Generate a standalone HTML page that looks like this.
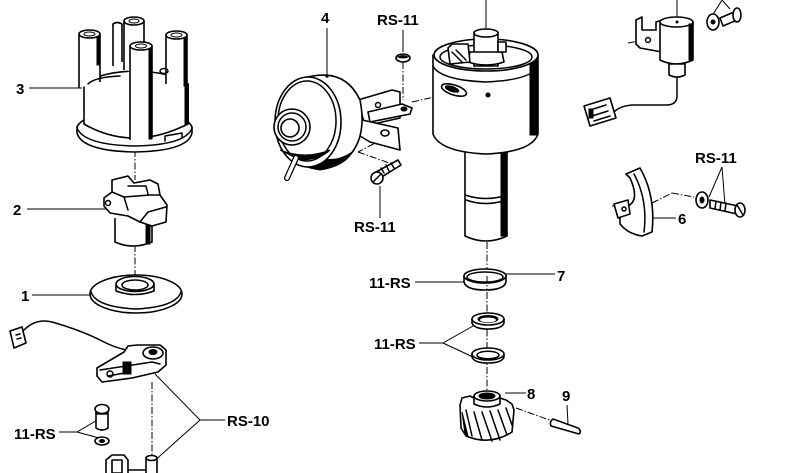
<!DOCTYPE html>
<html><head><meta charset="utf-8">
<style>
html,body{margin:0;padding:0;background:#fff;}
svg{display:block;}
.l{fill:none;stroke:#000;stroke-width:1.5;stroke-linejoin:round;stroke-linecap:round}
.t{fill:none;stroke:#000;stroke-width:1}
.w{fill:#fff;stroke:#000;stroke-width:1.6;stroke-linejoin:round}
.k{fill:#000;stroke:#000;stroke-width:1}
.d{fill:none;stroke:#000;stroke-width:1;stroke-dasharray:7 2 1.5 2}
text{font-family:"Liberation Sans",Arial,sans-serif;font-weight:bold;font-size:15px;fill:#000}
</style></head><body>
<svg width="799" height="473" viewBox="0 0 799 473" xmlns="http://www.w3.org/2000/svg">

<!-- ===== Labels & leaders ===== -->
<text x="16" y="94" font-size="16">3</text>
<line class="t" x1="29" y1="88" x2="82" y2="88"/>
<text x="13" y="215" font-size="16">2</text>
<line class="t" x1="27" y1="209" x2="106" y2="209"/>
<text x="21" y="301" font-size="16">1</text>
<line class="t" x1="32" y1="295" x2="91" y2="295"/>

<text x="321" y="23" font-size="16">4</text>
<line class="t" x1="327" y1="28" x2="327" y2="76"/>
<text x="377" y="25">RS-11</text>
<line class="t" x1="403" y1="30" x2="403" y2="52"/>
<text x="354" y="232">RS-11</text>
<line class="t" x1="380" y1="218" x2="380" y2="186"/>

<text x="369" y="288">11-RS</text>
<line class="t" x1="415" y1="282" x2="465" y2="282"/>
<text x="557" y="281" font-size="16">7</text>
<line class="t" x1="505" y1="274" x2="555" y2="274"/>
<text x="374" y="349">11-RS</text>
<polyline class="t" points="419,343 443,343 473,326"/>
<line class="t" x1="443" y1="343" x2="473" y2="357"/>
<text x="527" y="399" font-size="16">8</text>
<line class="t" x1="505" y1="393" x2="526" y2="393"/>
<text x="562" y="401" font-size="16">9</text>
<line class="t" x1="567" y1="405" x2="568" y2="424"/>

<text x="695" y="163">RS-11</text>
<line class="t" x1="722" y1="167" x2="709" y2="197"/>
<line class="t" x1="722" y1="167" x2="725" y2="205"/>
<text x="678" y="224" font-size="16">6</text>
<line class="t" x1="648" y1="218" x2="676" y2="218"/>

<text x="227" y="426">RS-10</text>
<polyline class="t" points="225,420 200,420 155,374"/>
<line class="t" x1="200" y1="420" x2="152" y2="463"/>
<text x="14" y="439">11-RS</text>
<polyline class="t" points="59,432 77,432 99,419"/>
<line class="t" x1="77" y1="432" x2="99" y2="438"/>

<!-- ===== Center dash lines ===== -->
<line class="d" x1="135" y1="150" x2="135" y2="180"/>
<line class="d" x1="135" y1="245" x2="135" y2="292"/>
<line class="d" x1="152" y1="382" x2="152" y2="456"/>
<line class="d" x1="487" y1="242" x2="487" y2="395"/>
<line class="d" x1="403" y1="62" x2="403" y2="100"/>
<line class="d" x1="412" y1="102" x2="448" y2="94"/>
<line class="d" x1="385" y1="138" x2="358" y2="152"/>
<line class="d" x1="358" y1="152" x2="395" y2="165"/>
<line class="d" x1="516" y1="408" x2="555" y2="422"/>
<line class="d" x1="652" y1="203" x2="672" y2="193"/>
<line class="d" x1="672" y1="193" x2="694" y2="197"/>
<line class="d" x1="628" y1="43" x2="645" y2="40"/>
<line class="d" x1="612" y1="206" x2="622" y2="206"/>

<!-- ===== Part 3: distributor cap ===== -->
<path class="w" d="M77,127 L77,133 Q82,151 135,152 Q188,151 192,133 L192,127 Q186,112 135,111 Q84,112 77,127Z"/>
<path class="l" d="M77,128 Q84,145 135,146 Q186,145 192,128"/>
<path class="w" d="M84,124 L84,84 Q100,72 135,71 Q172,72 188,84 L188,124 Q160,138 135,138 Q108,138 84,124Z"/>
<rect class="k" x="185" y="84" width="3.5" height="40"/>
<path class="w" d="M113,66 L113,24 Q117,21 122,24 L122,62"/>
<path class="w" d="M124,70 L124,21 L144,21 L144,74"/>
<ellipse class="w" cx="134" cy="21" rx="10" ry="4"/>
<ellipse class="t" cx="134" cy="21" rx="5" ry="2"/>
<path class="w" d="M166,84 L166,35 L187,35 L187,86"/>
<ellipse class="w" cx="176.5" cy="35" rx="10.5" ry="4"/>
<ellipse class="t" cx="176.5" cy="35" rx="5.5" ry="2"/>
<rect class="k" x="184" y="38" width="3" height="48"/>
<path class="w" d="M79,88 L79,34 L100,34 L100,82"/>
<ellipse class="w" cx="89.5" cy="34" rx="10.5" ry="4"/>
<ellipse class="t" cx="89.5" cy="34" rx="5.5" ry="2"/>
<rect class="k" x="97" y="37" width="3" height="28"/>
<path class="w" d="M130,140 L130,46 L152,46 L152,138"/>
<ellipse class="w" cx="141" cy="46" rx="11" ry="4"/>
<ellipse class="t" cx="141" cy="46" rx="5.5" ry="2"/>
<rect class="k" x="149" y="49" width="3" height="90"/>
<path class="l" d="M88,84 Q95,77 120,76"/>
<ellipse class="l" cx="164" cy="71" rx="4" ry="2.5"/>
<path class="l" d="M165,141 L165,136 L182,133 L182,138"/>

<!-- ===== Part 2: rotor ===== -->
<path class="w" d="M115,218 L115,242 Q133,250 152,242 L152,218"/>
<rect class="k" x="146" y="222" width="4" height="22"/>
<path class="w" d="M104,198 L112,192 L112,180 L128,176 L134,183 L150,180 L158,184 L160,195 L167,205 L166,222 L152,226 L140,222 L128,216 L110,213 L104,206Z"/>
<path class="l" d="M112,192 L124,197 L128,210"/>
<path class="l" d="M124,197 L150,195 L160,195"/>
<path class="l" d="M128,186 L146,186 L148,194"/>
<path class="l" d="M140,222 L148,212 L166,207"/>
<circle class="l" cx="108" cy="203" r="2.5"/>

<!-- ===== Part 1: plate ===== -->
<ellipse class="w" cx="136" cy="294" rx="46" ry="19"/>
<path class="l" d="M91,292 Q96,307 136,309 Q176,307 181,292"/>
<path class="w" d="M116,284 L116,291 Q135,298 154,291 L154,284"/>
<ellipse class="w" cx="135" cy="284" rx="19" ry="7.5"/>
<ellipse class="l" cx="135" cy="285" rx="13" ry="5"/>

<!-- ===== Breaker points ===== -->
<path class="l" d="M24,330 Q36,318 52,322 Q80,330 100,340 Q115,348 127,350" stroke-width="2"/>
<path class="w" d="M10,331 L22,327 L26,343 L14,348Z"/>
<path class="l" d="M16,335 L20,334 M17,339 L21,338"/>
<path class="w" d="M97,368 L124,352 L128,346 L137,345 L160,345 L166,350 L166,365 L158,372 L132,378 L102,382 L97,376Z"/>
<path class="l" d="M100,370 L126,366 L152,362 L160,364"/>
<path class="l" d="M108,376 L130,372"/>
<ellipse class="w" cx="153" cy="353" rx="10" ry="6"/>
<ellipse class="k" cx="153" cy="352" rx="4" ry="2.5"/>
<rect class="k" x="123" y="362" width="8" height="12"/>
<circle class="l" cx="110" cy="374" r="3"/>

<!-- bottom parts -->
<path class="w" d="M96,410 L96,428 Q102,432 108,428 L108,410"/>
<ellipse class="w" cx="102" cy="409" rx="7" ry="4.5"/>
<line class="l" x1="97" y1="414" x2="107" y2="414"/>
<ellipse class="w" cx="102" cy="441" rx="7" ry="4"/>
<ellipse class="k" cx="102" cy="441" rx="2.5" ry="1.5"/>
<path class="w" d="M106,473 L106,460 L112,455 L124,455 L128,460 L128,473"/>
<rect class="w" x="112" y="460" width="10" height="13"/>
<path class="w" d="M146,473 L146,458 L157,458 L157,473"/>
<ellipse class="w" cx="151.5" cy="458" rx="5.5" ry="2.5"/>
<line class="l" x1="128" y1="470" x2="146" y2="470"/>

<!-- ===== Part 4: vacuum unit ===== -->
<path class="w" d="M358,100 L392,90 L400,92 L400,118 L365,126Z"/>
<path class="w" d="M368,112 L402,104 L412,108 L410,114 L370,122Z"/>
<ellipse class="k" cx="404" cy="109" rx="3" ry="2"/>
<circle class="l" cx="378" cy="105" r="2.5"/>
<path class="w" d="M362,120 L398,128 L400,150 L370,142 L360,136Z"/>
<ellipse class="w" cx="385" cy="133" rx="4" ry="3"/>
<path class="w" d="M308,77 Q345,68 360,100 Q368,140 345,160 Q320,172 308,167Z"/>
<path class="k" d="M300,150 Q330,168 352,152 Q345,166 320,170 Q300,168 300,150Z"/>
<ellipse class="w" cx="308" cy="122" rx="33" ry="45"/>
<ellipse class="l" cx="307" cy="121" rx="29" ry="40"/>
<circle class="w" cx="292" cy="127" r="18"/>
<circle class="l" cx="292" cy="127" r="14"/>
<circle class="w" cx="290" cy="128" r="9"/>
<path class="k" d="M280,150 Q305,160 330,150 Q320,160 300,160Z"/>
<line x1="296" y1="158" x2="287" y2="178" stroke="#000" stroke-width="6" stroke-linecap="round"/>
<line x1="296" y1="158" x2="287" y2="178" stroke="#fff" stroke-width="3.5" stroke-linecap="round"/>
<circle class="k" cx="327" cy="76" r="1.2"/>
<ellipse class="w" cx="403" cy="58" rx="7" ry="4"/>
<path class="k" d="M398,57 Q403,54 408,57 Q403,59 398,57Z"/>
<path class="w" d="M376,172 L398,160 L401,165 L380,178Z"/>
<path class="l" d="M381,168 L384,173 M386,165 L389,171 M391,163 L394,168"/>
<circle class="w" cx="377" cy="178" r="6"/>
<line class="l" x1="373" y1="182" x2="381" y2="174"/>

<!-- ===== Distributor body ===== -->
<line class="t" x1="486" y1="0" x2="486" y2="34"/>
<path class="w" d="M465,148 L465,236 Q486,246 507,236 L507,148Z"/>
<path class="l" d="M465,195 Q486,202 507,195"/>
<path class="l" d="M466,200 Q486,207 506,200"/>
<rect class="k" x="501" y="150" width="5" height="86"/>
<path class="w" d="M433,55 L433,134 Q440,152 486,154 Q532,152 538,134 L538,55Z"/>
<rect class="k" x="530" y="60" width="8" height="75"/>
<path class="l" d="M433,66 Q440,80 486,82 Q532,80 538,66"/>
<ellipse class="w" cx="486" cy="55" rx="52" ry="16"/>
<ellipse class="l" cx="486" cy="57" rx="46" ry="12"/>
<rect class="w" x="474" y="32" width="24" height="34"/>
<ellipse class="w" cx="486" cy="33" rx="12" ry="4"/>
<path class="w" d="M468,62 L470,52 L502,52 L504,62 Q486,68 468,62Z"/>
<path class="w" d="M448,48 L452,44 L468,44 L470,62 L450,64Z"/>
<path class="l" d="M452,52 L462,62 M456,50 L466,60"/>
<rect class="w" x="498" y="42" width="8" height="10"/>
<ellipse class="w" cx="454" cy="90" rx="13" ry="5" transform="rotate(18 454 90)"/>
<ellipse class="k" cx="452" cy="89" rx="7" ry="2.5" transform="rotate(18 452 89)"/>
<circle class="k" cx="488" cy="95" r="2"/>

<!-- ===== Ring 7 & washers ===== -->
<path class="w" d="M464,276 L464,282 Q466,290 485,290 Q504,290 506,282 L506,276Z"/>
<ellipse class="w" cx="485" cy="276" rx="21" ry="7"/>
<ellipse class="l" cx="485" cy="277" rx="18" ry="5"/>
<line class="d" x1="487" y1="276" x2="487" y2="290"/>
<path class="w" d="M472,319 L472,323 Q474,329 488,329 Q502,329 504,323 L504,319Z"/>
<ellipse class="w" cx="488" cy="319" rx="16" ry="6"/>
<ellipse class="k" cx="488" cy="319" rx="10" ry="3.5"/>
<ellipse fill="#fff" cx="488" cy="320" rx="8" ry="2.4"/>
<path class="w" d="M472,354 L472,357 Q474,363 488,363 Q502,363 504,357 L504,354Z"/>
<ellipse class="w" cx="488" cy="354" rx="16" ry="6"/>
<ellipse class="l" cx="488" cy="355" rx="11" ry="3.8"/>

<!-- ===== Gear 8 & pin 9 ===== -->
<path class="w" d="M460,405 L462,398 L470,396 L476,399 L500,398 L506,400 L512,404 L514,410 L512,432 Q490,446 466,436 L461,428Z"/>
<path class="l" d="M466,410 L472,436 M474,412 L482,440 M482,412 L492,441 M490,411 L500,440 M498,410 L507,435 M506,408 L512,425"/>
<path class="k" d="M462,412 L468,436 L465,434 Z"/>
<path class="w" d="M474,396 L474,404 Q487,410 500,404 L500,396Z"/>
<ellipse class="w" cx="487" cy="396" rx="13" ry="5"/>
<ellipse class="k" cx="487" cy="396" rx="8" ry="3"/>
<path class="w" d="M553,419 L578,428 Q582,431 579,434 L551,426 Q549,422 553,419Z"/>

<!-- ===== Condenser (top right) ===== -->
<line class="t" x1="677" y1="0" x2="677" y2="20"/>
<line class="t" x1="722" y1="0" x2="712" y2="16"/>
<line class="t" x1="722" y1="0" x2="730" y2="9"/>
<path class="w" d="M636,20 L642,17 L642,30 L656,30 L656,22 L662,20 L662,52 L640,48 L636,44Z"/>
<circle class="l" cx="648" cy="40" r="2.5"/>
<path class="w" d="M660,22 L660,60 Q676,68 693,60 L693,22Z"/>
<ellipse class="w" cx="676.5" cy="22" rx="16.5" ry="5"/>
<circle class="k" cx="677" cy="22" r="1"/>
<rect class="k" x="689" y="24" width="4" height="36"/>
<path class="w" d="M669,64 L669,75 Q677,79 685,75 L685,64Z"/>
<path class="l" d="M677,78 L677,96 Q677,105 666,105 L632,105 Q620,106 614,112" stroke-width="2"/>
<path class="w" d="M584,106 L610,98 L616,118 L590,126Z"/>
<path class="l" d="M590,110 L606,105 M592,116 L608,111 M594,121 L610,116"/>
<rect class="k" x="589" y="109" width="4" height="9"/>
<ellipse class="w" cx="713" cy="22" rx="6" ry="8"/>
<circle class="k" cx="713" cy="22" r="2"/>
<path class="w" d="M720,18 L734,12 L737,20 L723,26Z"/>
<ellipse class="w" cx="737" cy="15" rx="4" ry="7"/>

<!-- ===== Clip 6 ===== -->
<path class="w" d="M626,174 L640,168 Q656,196 652,232 L642,236 Q628,234 620,224 L620,210 L628,206 Q640,200 630,178Z"/>
<path class="l" d="M634,174 Q648,200 644,232"/>
<path class="w" d="M614,204 L628,200 L630,214 L618,218Z"/>
<circle class="l" cx="624" cy="209" r="2"/>
<ellipse class="w" cx="702" cy="200" rx="6" ry="8"/>
<ellipse class="k" cx="702" cy="200" rx="2" ry="3"/>
<path class="w" d="M710,200 L738,206 L737,214 L710,208Z"/>
<path class="l" d="M716,201 L715,209 M721,202 L720,210 M726,203 L725,211"/>
<ellipse class="w" cx="740" cy="210" rx="5" ry="7"/>
<line class="l" x1="737" y1="205" x2="743" y2="215"/>

</svg>
</body></html>
